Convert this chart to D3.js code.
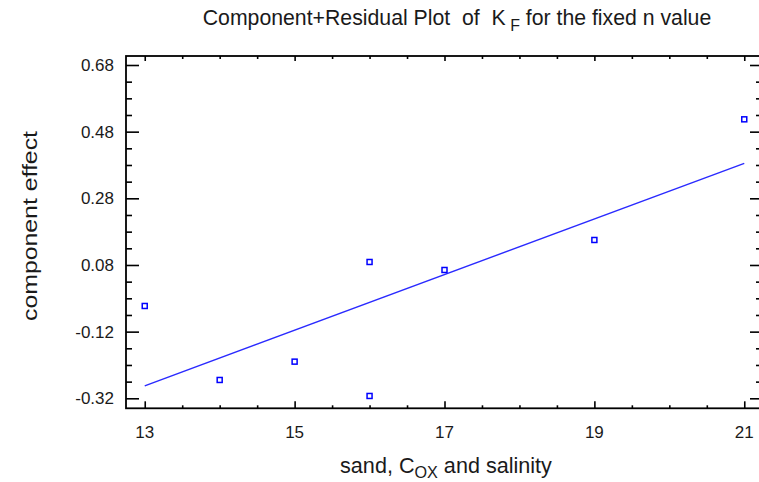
<!DOCTYPE html>
<html>
<head>
<meta charset="utf-8">
<script src="https://cdn.jsdelivr.net/npm/d3@7/dist/d3.min.js"></script>
<style>
  html, body { margin: 0; padding: 0; background: #fff; }
  svg { display: block; }
  text { font-family: "Liberation Sans", Arial, sans-serif; fill: #1a1a1a; }
</style>
</head>
<body>
<div id="chart"></div>
<script>
// Observations: sand, C_OX and salinity vs. component effect
const xValues = [13, 14, 15, 16, 16, 17, 19, 21];
const yValues = [-0.043, -0.265, -0.21, 0.089, -0.313, 0.065, 0.155, 0.517];

// Fitted component line (end points)
const fitX = [13, 21];
const fitY = [-0.2825, 0.385];

// Axis ticks
const xMajorTicks = [13, 15, 17, 19, 21];
const xMinorTicks = [13.5, 14, 14.5, 15.5, 16, 16.5, 17.5, 18, 18.5, 19.5, 20, 20.5];
const yMajorTicks = [-0.32, -0.12, 0.08, 0.28, 0.48, 0.68];
const yMinorTicks = [-0.27, -0.22, -0.17, -0.07, -0.02, 0.03, 0.13, 0.18, 0.23, 0.33, 0.38, 0.43, 0.53, 0.58, 0.63];

const W = 759, H = 482;
const plotL = 126, plotR = 763, plotT = 56, plotB = 408.3;

const svg = d3.select("#chart").append("svg")
  .attr("width", W).attr("height", H);

const x = d3.scaleLinear().domain([12.75, 21.25]).range([plotL, plotR]);
const y = d3.scaleLinear().domain([-0.35, 0.707]).range([plotB, plotT]);

// Tick marks on all four sides (pointing into the plot)
function ticks(axisFn, scale, values, size, transform) {
  const g = svg.append("g")
    .attr("transform", transform)
    .call(axisFn(scale).tickValues(values).tickSize(size).tickFormat(""));
  g.select(".domain").remove();
  g.selectAll("line").attr("stroke", "#000").attr("stroke-width", 1.6);
  return g;
}
ticks(d3.axisBottom, x, xMajorTicks, -7, `translate(0,${plotB})`);
ticks(d3.axisBottom, x, xMinorTicks, -3, `translate(0,${plotB})`);
ticks(d3.axisTop, x, xMajorTicks, -5, `translate(0,${plotT})`);
ticks(d3.axisTop, x, xMinorTicks, -3, `translate(0,${plotT})`);
ticks(d3.axisLeft, y, yMajorTicks, -13, `translate(${plotL},0)`);
ticks(d3.axisLeft, y, yMinorTicks, -6, `translate(${plotL},0)`);
ticks(d3.axisRight, y, yMajorTicks, -9, `translate(759,0)`);
ticks(d3.axisRight, y, yMinorTicks, -3, `translate(759,0)`);

// Frame
svg.append("rect")
  .attr("x", plotL).attr("y", plotT)
  .attr("width", plotR - plotL).attr("height", plotB - plotT)
  .attr("fill", "none").attr("stroke", "#000").attr("stroke-width", 1.8);

// Tick labels
svg.append("g").selectAll("text").data(xMajorTicks).join("text")
  .attr("x", d => x(d)).attr("y", 438)
  .attr("text-anchor", "middle")
  .style("font-size", "17px")
  .text(d => d);

svg.append("g").selectAll("text").data(yMajorTicks).join("text")
  .attr("x", 114).attr("y", d => y(d) + 6)
  .attr("text-anchor", "end")
  .style("font-size", "17px")
  .text(d => d.toFixed(2));

// Fitted line
const line = d3.line().x(d => x(d[0])).y(d => y(d[1]));
svg.append("path")
  .datum(d3.zip(fitX, fitY))
  .attr("d", line)
  .attr("fill", "none")
  .attr("stroke", "#2a2aff")
  .attr("stroke-width", 1.4);

// Observation markers
svg.append("g").selectAll("rect").data(d3.zip(xValues, yValues)).join("rect")
  .attr("x", d => x(d[0]) - 2.5).attr("y", d => y(d[1]) - 2.5)
  .attr("width", 5).attr("height", 5)
  .attr("fill", "#fff").attr("stroke", "#0000ff").attr("stroke-width", 1.5);

// Scale a text block so that it spans the given width
function fitWidth(sel, width, base) {
  const w = sel.node().getBBox().width;
  const s = base * width / w;
  sel.style("font-size", s + "px");
  sel.selectAll("tspan.sub").style("font-size", (s * 0.75) + "px");
}

// Title
const title = svg.append("text")
  .attr("x", 457).attr("y", 25)
  .attr("text-anchor", "middle")
  .style("font-size", "15px");
title.append("tspan").text("Component+Residual Plot\u00a0 of\u00a0 K");
title.append("tspan").attr("class", "sub").attr("dy", 6).style("font-size", "11.25px").text("\u00a0F");
title.append("tspan").attr("dy", -6).text(" for the fixed n value");
fitWidth(title, 509, 15);

// Axis titles
const xt = svg.append("text")
  .attr("x", 446).attr("y", 473)
  .attr("text-anchor", "middle")
  .style("font-size", "16px");
xt.append("tspan").text("sand, C");
xt.append("tspan").attr("class", "sub").attr("dy", 5).style("font-size", "12px").text("OX");
xt.append("tspan").attr("dy", -5).text(" and salinity");
fitWidth(xt, 212, 16);

svg.append("text")
  .attr("transform", "translate(37,226) rotate(-90)")
  .attr("text-anchor", "middle")
  .style("font-size", "21px")
  .attr("textLength", 190)
  .attr("lengthAdjust", "spacingAndGlyphs")
  .text("component effect");
</script>
</body>
</html>
